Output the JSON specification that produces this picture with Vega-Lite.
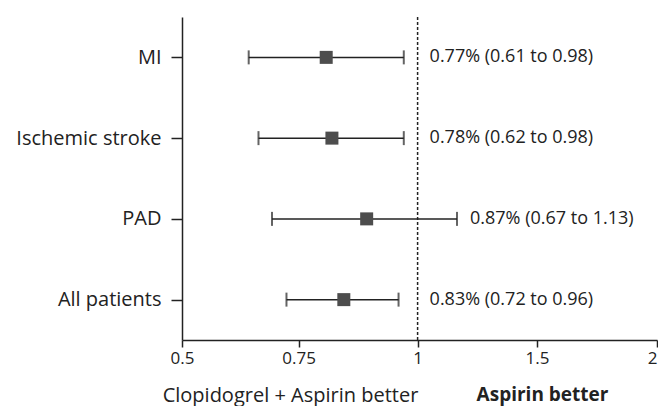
{
  "$schema": "https://vega.github.io/schema/vega-lite/v6.json",
  "width": 475,
  "height": 323,
  "autosize": "none",
  "padding": {"left": 182, "top": 17, "right": 1, "bottom": 66},
  "background": "white",
  "config": {"view": {"stroke": null}, "font": "Open Sans"},
  "datasets": {
    "rows": [
      {"group": "MI", "est": 0.808, "lo": 0.643, "hi": 0.971, "label": "0.77% (0.61 to 0.98)"},
      {"group": "Ischemic stroke", "est": 0.820, "lo": 0.664, "hi": 0.971, "label": "0.78% (0.62 to 0.98)"},
      {"group": "PAD", "est": 0.893, "lo": 0.693, "hi": 1.165, "label": "0.87% (0.67 to 1.13)"},
      {"group": "All patients", "est": 0.845, "lo": 0.724, "hi": 0.960, "label": "0.83% (0.72 to 0.96)"}
    ],
    "ref": [{"ref": 1}]
  },
  "resolve": {"axis": {"x": "independent"}},
  "layer": [
    {
      "data": {"name": "ref"},
      "mark": {"type": "rule", "strokeDash": [3, 2], "strokeWidth": 1.5, "color": "#222222"},
      "encoding": {
        "x": {
          "field": "ref", "type": "quantitative",
          "scale": {"domain": [0.5, 0.75, 1, 1.5, 2], "range": [0, 116.6, 235.6, 355, 475], "zero": false, "nice": false},
          "axis": {"orient": "bottom", "domain": false, "ticks": false, "labels": false, "grid": false,
            "title": "Aspirin better", "titleFontSize": 19, "titleFontWeight": "bold", "titleColor": "#222222",
            "titleX": 360, "titleY": 45, "titleAlign": "center", "titleBaseline": "top"}
        }
      }
    },
    {
      "data": {"name": "rows"},
      "mark": {"type": "rule", "strokeWidth": 1.5, "color": "#222222"},
      "encoding": {
        "y": {"field": "group", "type": "nominal", "sort": null, "scale": {"type": "point", "padding": 0.5},
          "axis": {"title": null, "labelFontSize": 20, "labelColor": "#222222", "tickSize": 11, "labelPadding": 10,
            "domainColor": "#222222", "domainWidth": 1.5, "tickColor": "#222222", "tickWidth": 1.5}},
        "x": {"field": "lo", "type": "quantitative",
          "axis": {"orient": "bottom", "values": [0.5, 0.75, 1, 1.5, 2], "format": "~g", "grid": false,
            "domainColor": "#222222", "domainWidth": 1.5, "tickColor": "#222222", "tickWidth": 1.5, "tickSize": 7,
            "labelFontSize": 17, "labelColor": "#222222", "labelPadding": 3,
            "labelAlign": {"expr": "datum.value == 2 ? 'right' : 'center'"},
            "title": "Clopidogrel + Aspirin better", "titleFontSize": 20, "titleFontWeight": "normal", "titleColor": "#222222",
            "titleX": 108, "titleY": 45, "titleAlign": "center", "titleBaseline": "top"}},
        "x2": {"field": "hi"}
      }
    },
    {
      "data": {"name": "rows"},
      "mark": {"type": "tick", "orient": "vertical", "size": 14, "thickness": 2, "color": "#222222"},
      "encoding": {
        "y": {"field": "group", "type": "nominal", "sort": null},
        "x": {"field": "lo", "type": "quantitative", "axis": null}
      }
    },
    {
      "data": {"name": "rows"},
      "mark": {"type": "tick", "orient": "vertical", "size": 14, "thickness": 2, "color": "#222222"},
      "encoding": {
        "y": {"field": "group", "type": "nominal", "sort": null},
        "x": {"field": "hi", "type": "quantitative", "axis": null}
      }
    },
    {
      "data": {"name": "rows"},
      "mark": {"type": "square", "size": 169, "filled": true, "color": "#4d4d4d", "opacity": 1},
      "encoding": {
        "y": {"field": "group", "type": "nominal", "sort": null},
        "x": {"field": "est", "type": "quantitative", "axis": null}
      }
    },
    {
      "data": {"name": "rows"},
      "transform": [{"filter": "datum.hi < 1"}],
      "mark": {"type": "text", "align": "left", "baseline": "middle", "dx": 12, "fontSize": 18, "color": "#222222"},
      "encoding": {
        "y": {"field": "group", "type": "nominal", "sort": null},
        "x": {"datum": 1, "type": "quantitative", "axis": null},
        "text": {"field": "label"}
      }
    },
    {
      "data": {"name": "rows"},
      "transform": [{"filter": "datum.hi >= 1"}],
      "mark": {"type": "text", "align": "left", "baseline": "middle", "dx": 13, "fontSize": 18, "color": "#222222"},
      "encoding": {
        "y": {"field": "group", "type": "nominal", "sort": null},
        "x": {"field": "hi", "type": "quantitative", "axis": null},
        "text": {"field": "label"}
      }
    }
  ]
}
